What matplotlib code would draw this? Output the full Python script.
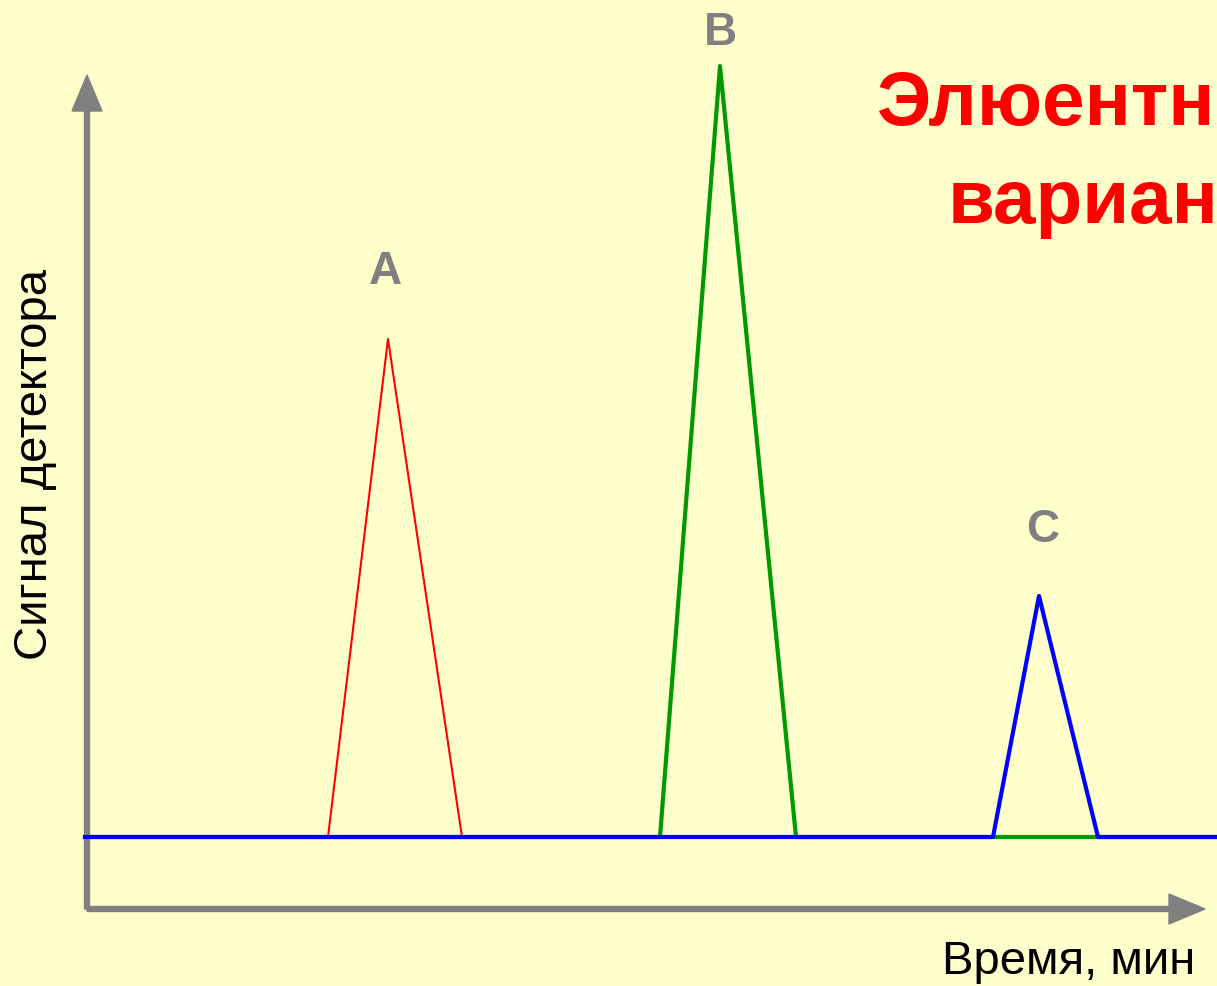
#Chromatogram sketch: three triangular peaks A, B, C on a common baseline

import matplotlib.pyplot as plt

#Peak data (time in arbitrary units, signal in arbitrary units)
peak_a_time = [2.41, 3.01, 3.75]
peak_a_signal = [0, 4.98, 0]

peak_b_time = [-0.02, 5.73, 6.33, 7.09, 12.3]
peak_b_signal = [0, 0, 7.71, 0, 0]

peak_c_time = [-0.02, 9.06, 9.52, 10.11, 12.3]
peak_c_signal = [0, 0, 2.41, 0, 0]

peak_labels = ["A", "B", "C"]
label_time = [2.98, 6.33, 9.56]
label_signal = [5.66, 8.05, 3.08]

bg = "#FFFFCC"
gray = "#808080"

fig = plt.figure(figsize=(12.17, 9.87), dpi=100, facecolor=bg)
ax = fig.add_axes([0, 0, 1, 1])
ax.set_facecolor(bg)
ax.set_xlim(-0.87, 11.30)
ax.set_ylim(-1.49, 8.38)
ax.axis("off")

#Axis arrows
ax.arrow(0, -0.72, 0, 8.34, width=0.05, head_width=0.30, head_length=0.36,
         length_includes_head=True, color=gray, zorder=1)
ax.arrow(0, -0.72, 11.18, 0, width=0.05, head_width=0.30, head_length=0.36,
         length_includes_head=True, color=gray, zorder=1)

#Peaks
ax.plot(peak_a_time, peak_a_signal, color="#FF0000", lw=1.5, zorder=2)
ax.plot(peak_b_time, peak_b_signal, color="#009900", lw=3, zorder=3)
ax.plot(peak_c_time, peak_c_signal, color="#0000FF", lw=3, zorder=4)

for lab, tx, ty in zip(peak_labels, label_time, label_signal):
    ax.text(tx, ty, lab, color=gray, fontsize=33, fontweight="bold",
            ha="center", va="center", family="Liberation Sans")

#Title (cut off at the right edge, as in the original slide)
ax.text(7.89, 7.13, "Элюентный", color="#FF0000", fontsize=55, fontweight="bold",
        ha="left", va="baseline", family="Liberation Sans")
ax.text(8.61, 6.15, "вариант", color="#FF0000", fontsize=55, fontweight="bold",
        ha="left", va="baseline", family="Liberation Sans")

#Axis titles
ax.text(-0.52, 3.73, "Сигнал детектора", color="black", fontsize=34, rotation=90,
        ha="center", va="center", family="Liberation Sans")
ax.text(11.08, -1.24, "Время, мин", color="black", fontsize=34,
        ha="right", va="center", family="Liberation Sans")

plt.savefig("out.png", dpi=100, facecolor=bg)
